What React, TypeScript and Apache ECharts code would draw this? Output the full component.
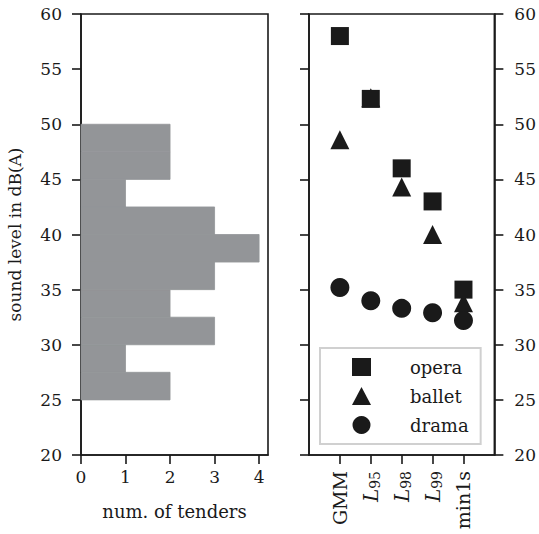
import React, { useEffect, useRef } from "react";
import * as echarts from "echarts";

const binStarts = [25, 27.5, 30, 32.5, 35, 37.5, 40, 42.5, 45, 47.5];
const binEnds = [27.5, 30, 32.5, 35, 37.5, 40, 42.5, 45, 47.5, 50];
const binCounts = [2, 1, 3, 2, 3, 4, 3, 1, 2, 2];

const categories = ["GMM", "L95", "L98", "L99", "min1s"];
const opera = [58.0, 52.3, 46.0, 43.0, 35.0];
const ballet = [48.6, 52.4, 44.3, 40.0, 33.8];
const drama = [35.2, 34.0, 33.3, 32.9, 32.2];

const countTicks = [0, 1, 2, 3, 4];

const FONT = "DejaVu Serif";
const INK = "#1a1a1a";

export default function App() {
  const ref = useRef<HTMLDivElement>(null);
  useEffect(() => {
    const chart = echarts.init(ref.current!, null, { renderer: "svg" });
    const paddedCats = ["", ...categories, ""];
    const txt = { fontFamily: FONT, fontSize: 17, color: INK };
    const axisLine = { show: true, lineStyle: { color: INK, width: 1.6 } };
    const axisTick = { show: true, length: 9, lineStyle: { color: INK, width: 1.6 } };
    const gridBase = { show: true, borderColor: INK, borderWidth: 1.6, backgroundColor: "transparent" };
    const histData = binStarts.map((s, i) => [s, binEnds[i], binCounts[i]]);
    const option: any = {
      animation: false,
      textStyle: { fontFamily: FONT },
      grid: [
        { ...gridBase, left: 81, top: 14, width: 187, height: 441 },
        { ...gridBase, left: 309, top: 14, width: 187, height: 441 },
      ],
      xAxis: [
        {
          type: "value",
          gridIndex: 0,
          min: 0,
          max: 4.2,
          interval: 1,
          splitLine: { show: false },
          axisLine,
          axisTick: { ...axisTick, customValues: countTicks },
          axisLabel: { ...txt, margin: 13, customValues: countTicks },
          name: "num. of tenders",
          nameLocation: "middle",
          nameGap: 47,
          nameTextStyle: { ...txt, fontSize: 18 },
        },
        {
          type: "category",
          gridIndex: 1,
          data: paddedCats,
          boundaryGap: false,
          axisLine,
          axisTick: { ...axisTick, interval: (_i: number, v: string) => v !== "" },
          axisLabel: {
            ...txt,
            fontSize: 19,
            rotate: 90,
            margin: 16,
            interval: 0,
            formatter: (v: string) => {
              if (v.startsWith("L")) return "{i|L}{s|" + v.slice(1) + "}";
              return v;
            },
            rich: {
              i: { fontFamily: FONT, fontSize: 20, fontStyle: "italic", color: INK },
              s: { fontFamily: FONT, fontSize: 14, color: INK, verticalAlign: "bottom", padding: [8, 0, 0, 0] },
            },
          },
          splitLine: { show: false },
        },
      ],
      yAxis: [
        {
          type: "value",
          gridIndex: 0,
          min: 20,
          max: 60,
          interval: 5,
          splitLine: { show: false },
          axisLine,
          axisTick,
          axisLabel: { ...txt, margin: 19 },
          name: "sound level in dB(A)",
          nameLocation: "middle",
          nameGap: 58,
          nameTextStyle: txt,
        },
        {
          type: "value",
          gridIndex: 1,
          position: "left",
          min: 20,
          max: 60,
          interval: 5,
          splitLine: { show: false },
          axisLine,
          axisTick,
          axisLabel: { show: false },
        },
        {
          type: "value",
          gridIndex: 1,
          position: "right",
          min: 20,
          max: 60,
          interval: 5,
          splitLine: { show: false },
          axisLine,
          axisTick,
          axisLabel: { ...txt, margin: 20 },
        },
      ],
      legend: {
        orient: "vertical",
        left: 320,
        top: 348,
        padding: [10, 12, 10, 32],
        itemWidth: 19,
        itemHeight: 18,
        itemGap: 11,
        borderColor: "#d0d0d0",
        borderWidth: 2,
        backgroundColor: "rgba(255,255,255,0.85)",
        textStyle: { ...txt, fontSize: 18, padding: [0, 0, 0, 34] },
        itemStyle: { opacity: 1 },
        data: [
          { name: "opera", icon: "rect" },
          { name: "ballet", icon: "triangle" },
          { name: "drama", icon: "circle" },
        ],
      },
      series: [
        {
          type: "custom",
          xAxisIndex: 0,
          yAxisIndex: 0,
          data: histData,
          encode: { x: 2, y: [0, 1] },
          renderItem: (_p: any, api: any) => {
            const y0 = api.value(0);
            const y1 = api.value(1);
            const c = api.value(2);
            const a = api.coord([0, y0]);
            const b = api.coord([c, y1]);
            return {
              type: "rect",
              shape: { x: a[0], y: b[1], width: b[0] - a[0], height: a[1] - b[1] },
              style: { fill: "#939598", stroke: "#939598", lineWidth: 0.8 },
            };
          },
        },
        {
          name: "ballet",
          type: "scatter",
          xAxisIndex: 1,
          yAxisIndex: 2,
          symbol: "triangle",
          symbolSize: 19,
          z: 2,
          itemStyle: { color: INK, opacity: 1 },
          data: ballet.map((v, i) => [categories[i], v]),
        },
        {
          name: "opera",
          type: "scatter",
          xAxisIndex: 1,
          yAxisIndex: 2,
          symbol: "rect",
          symbolSize: 18,
          z: 3,
          itemStyle: { color: INK, opacity: 1 },
          data: opera.map((v, i) => [categories[i], v]),
        },
        {
          name: "drama",
          type: "scatter",
          xAxisIndex: 1,
          yAxisIndex: 2,
          symbol: "circle",
          symbolSize: 19,
          z: 2,
          itemStyle: { color: INK, opacity: 1 },
          data: drama.map((v, i) => [categories[i], v]),
        },
      ],
    };
    chart.setOption(option);
    return () => chart.dispose();
  }, []);
  return (
    <div
      ref={ref}
      style={{ position: "absolute", left: 0, top: 0, width: 539, height: 534, background: "#fff" }}
    />
  );
}
